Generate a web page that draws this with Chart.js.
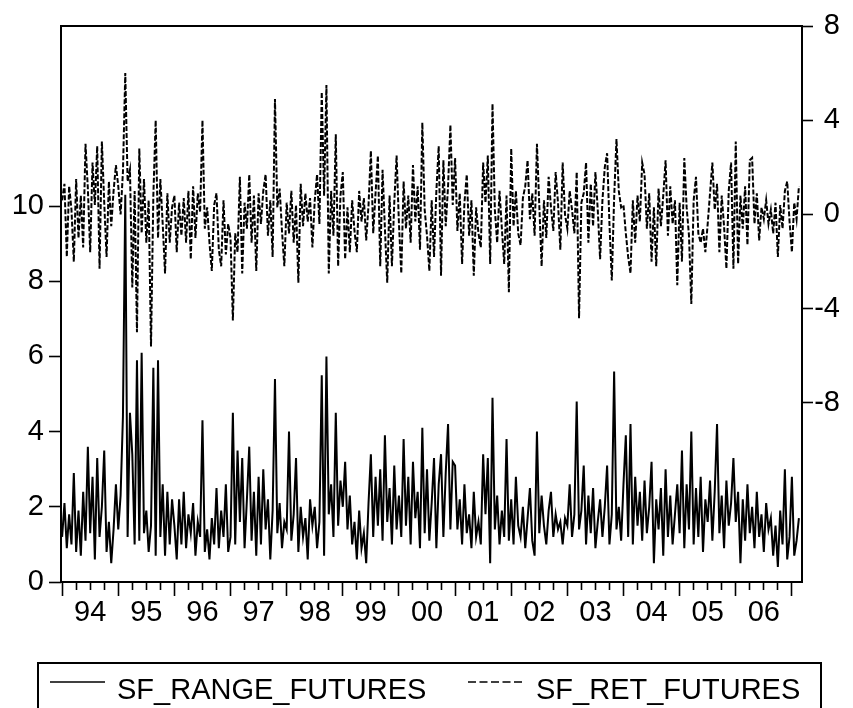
<!DOCTYPE html>
<html>
<head>
<meta charset="utf-8">
<script src="https://cdn.jsdelivr.net/npm/chart.js@4.4.1/dist/chart.umd.min.js"></script>
<style>
	html, body { margin: 0; padding: 0; background: #fff; overflow: hidden; }
	#wrap { position: relative; width: 853px; height: 708px; }
	#legend {
		position: absolute; left: 37px; top: 662px; width: 785px; height: 70px;
		border: 2px solid #000; box-sizing: border-box;
		font-family: "Liberation Sans", Arial, sans-serif; font-size: 29px; color: #000;
	}
	#legend .item { position: absolute; top: 8px; line-height: 34px; white-space: nowrap; }
	#legend svg { position: absolute; top: 15px; }
</style>
</head>
<body>
<div id="wrap">
	<canvas id="chart" width="853" height="708"></canvas>
	<div id="legend">
		<svg style="left: 11px;" width="56" height="6"><line x1="0" y1="3" x2="55" y2="3" stroke="#000" stroke-width="1.6"/></svg>
		<span class="item" style="left: 78px;">SF_RANGE_FUTURES</span>
		<svg style="left: 429px;" width="58" height="6"><line x1="0" y1="3" x2="57" y2="3" stroke="#000" stroke-width="1.6" stroke-dasharray="8 3.5"/></svg>
		<span class="item" style="left: 497px;">SF_RET_FUTURES</span>
	</div>
</div>
<script>
// weekly-ish series at 24 points per year
const startYear = 1994;
const perYear = 24;
const yearLabels = ["94", "95", "96", "97", "98", "99", "00", "01", "02", "03", "04", "05", "06"];
const leftTicks = [0, 2, 4, 6, 8, 10];
const rightTicks = [-8, -4, 0, 4, 8];

const rangeFutures = [
	1.2, 2.1, 0.9, 1.8, 1.0, 2.9, 0.8, 1.9, 0.7, 2.4, 1.1, 3.6, 1.3, 2.8, 0.6, 3.3, 1.2, 2.0, 3.5, 0.8, 1.6, 0.5, 1.4, 2.6, // 94
	1.4, 2.3, 4.4, 10.3, 1.2, 4.5, 3.4, 1.0, 5.9, 1.1, 6.1, 1.3, 1.9, 0.8, 1.5, 5.7, 0.7, 5.9, 1.2, 2.6, 0.7, 2.4, 1.0, 2.2, // 95
	1.5, 0.6, 2.2, 1.0, 2.4, 0.9, 1.8, 1.3, 2.1, 0.7, 1.6, 1.2, 4.3, 0.8, 1.4, 0.6, 1.7, 1.0, 2.5, 0.9, 1.9, 1.2, 2.6, 0.8, // 96
	1.2, 4.5, 1.0, 3.5, 1.6, 3.3, 0.9, 2.2, 3.6, 1.1, 2.4, 0.7, 2.8, 1.0, 3.0, 1.4, 2.2, 0.6, 1.9, 5.4, 1.3, 2.1, 0.9, 1.6, // 97
	1.4, 4.0, 1.1, 1.8, 3.3, 0.8, 2.0, 1.2, 1.7, 0.6, 2.2, 1.5, 2.0, 0.9, 1.6, 5.5, 0.7, 6.0, 1.8, 2.6, 1.2, 4.5, 1.5, 2.7, // 98
	2.0, 3.2, 1.4, 2.3, 1.0, 1.6, 0.6, 1.9, 0.9, 1.3, 0.5, 2.1, 3.4, 1.2, 2.8, 1.5, 3.0, 1.1, 3.9, 1.6, 2.5, 1.0, 3.1, 1.4, // 99
	2.3, 1.2, 3.8, 1.5, 2.8, 1.0, 3.2, 1.7, 2.4, 0.9, 4.1, 1.3, 3.0, 1.1, 2.1, 3.3, 0.9, 2.6, 3.4, 1.2, 2.9, 4.2, 1.4, 3.2, // 00
	3.1, 1.4, 2.2, 1.0, 2.6, 1.3, 1.8, 0.9, 2.4, 1.2, 1.6, 1.0, 3.4, 1.8, 3.3, 0.5, 4.9, 1.4, 2.3, 1.0, 1.9, 1.2, 3.8, 1.1, // 01
	2.2, 1.0, 2.8, 1.5, 1.2, 2.0, 0.9, 1.7, 2.5, 1.1, 0.7, 4.0, 1.3, 2.3, 1.5, 1.0, 1.9, 2.4, 1.2, 1.8, 1.4, 1.6, 1.0, 1.7, // 02
	1.5, 2.6, 1.2, 1.8, 4.8, 1.4, 1.9, 3.1, 1.0, 2.3, 1.3, 2.5, 0.9, 1.6, 2.2, 1.2, 2.0, 3.1, 1.0, 1.8, 5.6, 1.4, 2.0, 1.1, // 03
	2.6, 3.9, 1.2, 4.2, 1.0, 2.8, 1.5, 2.4, 1.1, 2.7, 1.3, 2.0, 3.2, 0.5, 2.2, 1.4, 2.5, 0.7, 3.0, 1.2, 2.3, 1.0, 1.8, 2.6, // 04
	1.3, 3.5, 0.9, 2.6, 1.4, 4.0, 1.0, 2.5, 1.2, 2.8, 0.8, 2.2, 1.6, 2.7, 1.1, 2.4, 4.2, 1.3, 2.3, 0.9, 2.7, 1.5, 2.1, 3.3, // 05
	1.6, 2.4, 0.5, 2.2, 1.1, 2.6, 1.3, 2.0, 0.9, 2.4, 1.2, 1.8, 0.8, 2.1, 1.4, 1.7, 0.7, 1.5, 0.4, 1.9, 1.0, 3.0, 0.6, 1.2, // 06
	2.8, 0.7, 1.1, 1.7 // 07
];

const retFutures = [
	0.6, 1.3, -1.8, 1.2, 0.2, -2.0, 1.5, -1.0, 0.8, -1.4, 3.0, 1.1, -1.6, 2.2, 0.4, 2.9, -2.3, 3.1, 0.5, -1.8, 1.4, -0.5, 1.0, 2.1, // 94
	1.2, 0.0, 1.8, 6.0, 1.4, 1.9, -3.1, 1.0, -5.0, 2.8, -0.8, 1.5, -1.2, 0.6, -5.6, 0.8, 4.0, -1.0, 1.5, -0.4, -2.5, 0.9, -1.2, 0.3, // 95
	0.8, -1.6, 0.5, -0.9, 0.7, -1.2, 1.0, -1.9, 1.2, -1.0, 0.9, 0.1, 4.0, -0.6, 0.3, -1.2, -2.4, 0.4, 0.9, -1.5, -2.2, 0.6, -1.7, -0.4, // 96
	-1.0, -4.5, -0.8, -1.6, 1.6, -2.5, 0.5, -0.6, 1.7, -1.2, 0.8, -2.4, 0.9, -0.4, 1.0, 1.7, -0.9, 0.6, -1.8, 4.9, 0.3, 1.1, -0.7, -2.2, // 97
	0.5, -0.8, 1.0, -1.2, 0.4, -2.9, 1.3, -0.5, 0.9, -0.3, 0.7, -1.4, 0.6, 1.7, -0.4, 5.2, 0.8, 5.5, -2.5, 1.0, -0.9, 3.4, -2.2, 0.8, // 98
	1.8, -1.9, 0.3, -1.6, 0.6, -0.7, -1.6, 1.0, -0.3, 0.7, -1.1, 0.4, 2.7, -0.8, 0.9, 2.5, -2.2, 1.9, -0.6, -2.9, 0.8, -2.2, 0.5, 2.5, // 99
	-0.4, -2.5, 1.4, -0.6, 0.8, -1.2, 2.1, -0.3, 1.2, -1.5, 3.9, 0.2, -0.9, -2.4, 0.6, -1.8, 1.0, 2.9, -2.6, 2.3, -0.5, 1.2, 3.8, 0.4, // 00
	2.4, -0.7, 0.9, -2.1, 0.5, 1.7, -0.9, 0.6, -2.6, 0.3, -0.8, -1.4, 2.2, 0.5, 2.5, -2.1, 4.7, 0.2, -1.2, 1.0, -0.6, -2.1, 0.8, -3.3, // 01
	2.8, -0.5, 1.0, -0.8, -1.3, 0.7, 1.2, 2.3, -0.2, 0.9, -0.9, 3.0, 0.4, -2.2, 0.6, -1.0, 1.6, 0.3, -0.7, 1.8, 0.5, -1.5, 2.2, 0.0, // 02
	-0.6, 1.0, 0.2, -0.8, 1.8, -4.4, 0.5, 0.9, 2.2, -1.2, 1.3, -0.5, 1.8, 0.2, -1.9, 0.6, 2.0, 2.6, -0.4, -2.8, 0.7, 3.2, 1.0, 0.3, // 03
	0.4, -0.8, -1.8, -2.5, 0.6, -1.2, 0.8, -0.3, 2.2, 1.7, -0.6, 0.9, -2.0, 0.3, -2.2, 1.1, -0.5, 0.8, 2.3, -0.9, 1.2, -0.4, 0.6, -3.0, // 04
	0.5, -2.0, 2.4, 0.3, -0.9, -3.8, 0.6, 1.6, -0.8, -1.2, -0.6, -1.6, -0.4, 0.9, 2.2, 0.2, 1.3, -1.6, 0.8, -0.5, -2.3, 1.0, 2.2, -2.3, // 05
	3.1, -2.1, 0.8, -0.6, 1.2, -1.3, 2.3, 2.4, -0.4, 0.9, -1.1, 0.3, -0.2, 0.6, -0.4, 0.2, -0.8, 0.5, -1.8, 0.4, -0.6, 1.0, 1.4, -0.3, // 06
	-1.6, 0.5, -0.2, 1.2 // 07
];

function toPoints(arr) {
	return arr.map((v, i) => ({ x: startYear + i / perYear, y: v }));
}

const font = { family: "'Liberation Sans', Arial, sans-serif", size: 29 };

const framePlugin = {
	id: "frame",
	afterDraw(chart) {
		const a = chart.chartArea;
		const ctx = chart.ctx;
		ctx.save();
		ctx.strokeStyle = "#000";
		ctx.lineWidth = 2;
		ctx.strokeRect(a.left, a.top, a.right - a.left, a.bottom - a.top);
		ctx.restore();
	}
};

new Chart(document.getElementById("chart"), {
	type: "line",
	data: {
		datasets: [{
			label: "SF_RANGE_FUTURES",
			data: toPoints(rangeFutures),
			yAxisID: "y",
			borderColor: "#000",
			borderWidth: 2,
			pointRadius: 0,
			tension: 0
		}, {
			label: "SF_RET_FUTURES",
			data: toPoints(retFutures),
			yAxisID: "y2",
			borderColor: "#000",
			borderWidth: 2,
			borderDash: [5, 2],
			pointRadius: 0,
			tension: 0
		}]
	},
	options: {
		responsive: false,
		animation: false,
		devicePixelRatio: 1,
		layout: { padding: { top: 26, right: 13, left: 0, bottom: 0 } },
		plugins: { legend: { display: false }, tooltip: { enabled: false } },
		scales: {
			x: {
				type: "linear",
				min: 1993.98,
				max: 2007.18,
				afterBuildTicks: (scale) => {
					const t = [];
					for (let q = 0; q <= 13 * 4; q++) t.push({ value: startYear + q / 4 });
					scale.ticks = t;
				},
				afterFit: (scale) => { scale.height = 126; },
				ticks: {
					autoSkip: false,
					maxRotation: 0,
					padding: 0,
					color: "#000",
					font: font,
					callback: (v) => {
						const k = v - startYear - 0.5;
						return Math.abs(k - Math.round(k)) < 1e-6 ? yearLabels[Math.round(k)] : "";
					}
				},
				grid: {
					drawOnChartArea: false,
					tickLength: 14,
					tickWidth: 1.6,
					tickColor: "#000",
					tickBorderDash: (c) => (c.tick && Math.abs(c.tick.value % 1) < 1e-6 ? [] : [8, 20])
				},
				border: { display: false }
			},
			y: {
				position: "left",
				min: 0,
				max: 14.79,
				afterBuildTicks: (scale) => { scale.ticks = leftTicks.map(v => ({ value: v })); },
				afterFit: (scale) => { scale.width = 61; },
				ticks: { color: "#000", font: font, padding: 5 },
				grid: { drawOnChartArea: false, tickLength: 12, tickWidth: 1.6, tickColor: "#000" },
				border: { display: false }
			},
			y2: {
				position: "right",
				min: -15.6,
				max: 8,
				afterBuildTicks: (scale) => { scale.ticks = rightTicks.map(v => ({ value: v })); },
				afterFit: (scale) => { scale.width = 38; },
				ticks: { color: "#000", font: font, padding: 8, crossAlign: "far" },
				grid: { drawOnChartArea: false, tickLength: 11, tickWidth: 1.6, tickColor: "#000" },
				border: { display: false }
			}
		}
	},
	plugins: [framePlugin]
});
</script>
</body>
</html>
